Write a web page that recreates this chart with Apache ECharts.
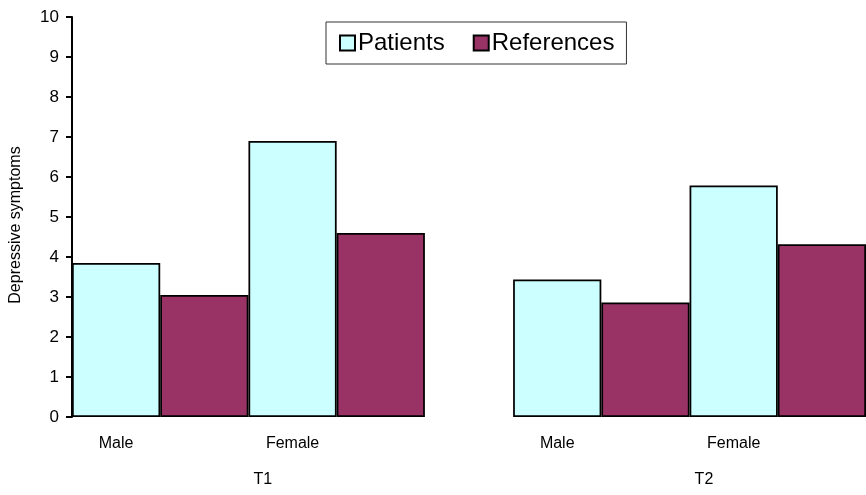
<!DOCTYPE html>
<html>
<head>
<meta charset="utf-8">
<script src="https://cdn.jsdelivr.net/npm/echarts@6/dist/echarts.min.js"></script>
<style>
  html, body { margin: 0; padding: 0; background: #fff; }
  #chart { width: 866px; height: 495px; }
</style>
</head>
<body>
<div id="chart"></div>
<script>
// One slot per bar; the empty slot separates the two time points.
const sexLabels = ['Male', '', 'Female', '', '', 'Male', '', 'Female', ''];
const timeLabels = ['', 'T1', '', '', '', '', 'T2', '', ''];
const patients = [3.85, '-', 6.9, '-', '-', 3.44, '-', 5.79, '-'];
const references = ['-', 3.05, '-', 4.6, '-', '-', 2.86, '-', 4.32];
const yTicks = [0, 10, 1];

const FONT = 'Liberation Sans, Arial, sans-serif';

const chart = echarts.init(document.getElementById('chart'), null, { renderer: 'canvas' });

const barStyle = (color) => ({ color: color, borderColor: '#000', borderWidth: 1.75 });

chart.setOption({
  animation: false,
  backgroundColor: '#fff',
  textStyle: { fontFamily: FONT, color: '#000' },
  legend: {
    left: 326,
    top: 22,
    padding: [9, 12, 9, 13],
    itemGap: 28,
    itemWidth: 15,
    itemHeight: 15,
    icon: 'rect',
    borderColor: '#333',
    borderWidth: 1,
    textStyle: { fontFamily: FONT, fontSize: 24, color: '#000', padding: [0, 0, 0, -2] },
    data: ['Patients', 'References']
  },
  grid: { left: 72, top: 17, width: 800, height: 400, containLabel: false },
  xAxis: [
    {
      type: 'category',
      data: sexLabels,
      axisLine: { show: false },
      axisTick: { show: false },
      axisLabel: { interval: 0, margin: 19, fontSize: 16, fontFamily: FONT, color: '#000' }
    },
    {
      type: 'category',
      data: timeLabels,
      position: 'bottom',
      axisLine: { show: false },
      axisTick: { show: false },
      axisLabel: {
        interval: 0, margin: 55, fontSize: 16, fontFamily: FONT, color: '#000',
        padding: [0, 0, 0, 117]
      }
    }
  ],
  yAxis: {
    type: 'value',
    min: yTicks[0],
    max: yTicks[1],
    interval: yTicks[2],
    name: 'Depressive symptoms',
    nameLocation: 'middle',
    nameRotate: 90,
    nameGap: 48,
    nameTextStyle: { fontSize: 16, fontFamily: FONT, color: '#000', padding: [0, 16, 0, 0] },
    axisLine: { show: true, lineStyle: { color: '#000', width: 2 } },
    axisTick: { show: true, inside: false, length: 6, lineStyle: { color: '#000', width: 2 } },
    axisLabel: { margin: 13, fontSize: 17, fontFamily: FONT, color: '#000' },
    splitLine: { show: false }
  },
  series: [
    {
      name: 'Patients',
      type: 'bar',
      xAxisIndex: 0,
      data: patients,
      barGap: '-100%',
      barCategoryGap: 0,
      barWidth: '100%',
      itemStyle: barStyle('#CCFFFF')
    },
    {
      name: 'References',
      type: 'bar',
      xAxisIndex: 0,
      data: references,
      barGap: '-100%',
      barCategoryGap: 0,
      barWidth: '100%',
      itemStyle: barStyle('#993366')
    }
  ]
});
</script>
</body>
</html>
